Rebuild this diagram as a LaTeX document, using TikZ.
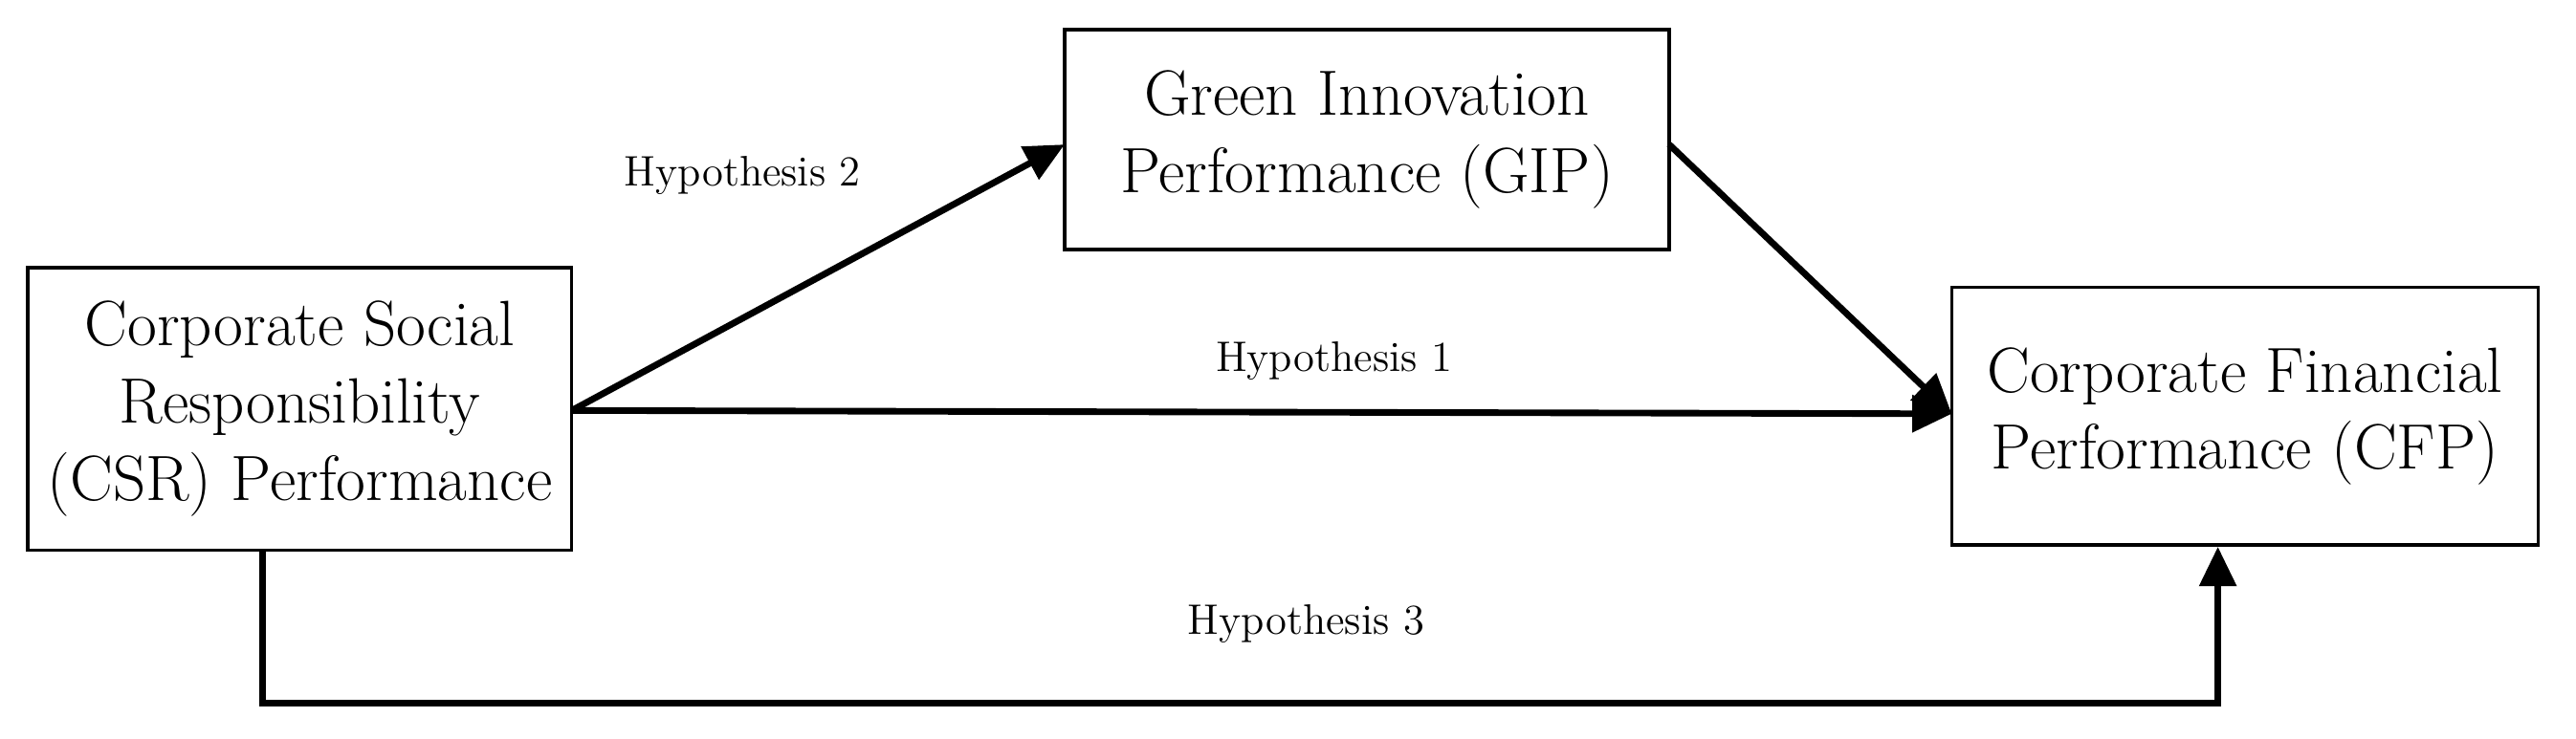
\documentclass[tikz,border=0pt]{standalone}
\usetikzlibrary{arrows.meta}
\begin{document}
\begin{tikzpicture}[x=0.5pt,y=-0.5pt,
  box/.style={draw,line width=1pt,align=center,font=\fontsize{19.5}{23.5}\selectfont,inner sep=0pt},
  conn/.style={line width=2pt,-{Triangle[length=12pt,width=11pt]}},
  lab/.style={font=\fontsize{13}{15}\selectfont}]
\useasboundingbox (0,0) rectangle (1568,450);
\node[box,minimum width=165.5pt,minimum height=86pt] (csr) at (182.5,249) {Corporate Social\\Responsibility\\(CSR) Performance};
\node[box,minimum width=184pt,minimum height=67pt] (gip) at (832,85) {Green Innovation\\Performance (GIP)};
\node[box,minimum width=178.5pt,minimum height=78.5pt] (cfp) at (1366.5,253.5) {Corporate Financial\\Performance (CFP)};
\coordinate (s) at (348,250);
\coordinate (g1) at (648,88);
\coordinate (g2) at (1016,88);
\coordinate (c1) at (1188,252);
\draw[conn] (s) -- (g1);
\draw[conn] (s) -- (c1);
\draw[conn] (g2) -- (c1);
\draw[conn] (csr.south -| 160,0) -- (160,428) -- (1350,428) -- (cfp.south -| 1350,0);
\node[lab] (h2) at (452,107) {Hypothesis 2};
\node[lab] (h1) at (812,220) {Hypothesis 1};
\node[lab] (h3) at (795,380) {Hypothesis 3};
\end{tikzpicture}
\end{document}
